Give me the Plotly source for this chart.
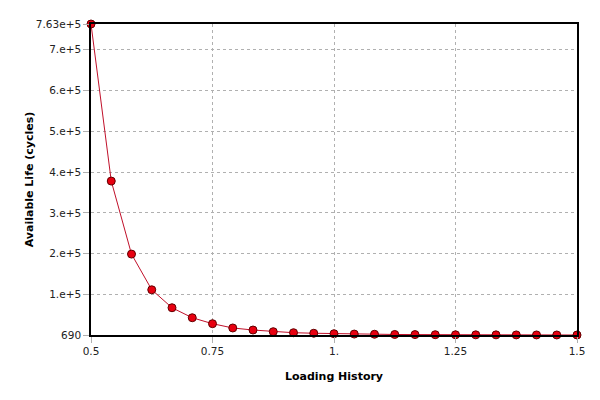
import plotly.graph_objects as go

loading_history = [0.5 + k / 24 for k in range(25)]
available_life = [763000, 378000, 199000, 111500, 67500, 43000, 28400, 17900, 12900,
                  8800, 6300, 5000, 3900, 3000, 2500, 2000, 1700, 1400, 1200, 1100,
                  1000, 900, 820, 750, 690]

y_tickvals = [690, 100000, 200000, 300000, 400000, 500000, 600000, 700000, 763000]
y_ticktext = ["690", "1.e+5", "2.e+5", "3.e+5", "4.e+5", "5.e+5", "6.e+5", "7.e+5", "7.63e+5"]
x_tickvals = [0.5, 0.75, 1.0, 1.25, 1.5]
x_ticktext = ["0.5", "0.75", "1.", "1.25", "1.5"]

fig = go.Figure()
fig.add_trace(go.Scatter(
    x=loading_history, y=available_life, mode="lines+markers",
    line=dict(color="#c0102a", width=1),
    marker=dict(color="#e80010", size=8, line=dict(color="#600000", width=1)),
    cliponaxis=False, showlegend=False,
))

axis_common = dict(
    showline=True, linecolor="black", linewidth=1.5, mirror=True,
    showgrid=True, gridcolor="#b0b0b0", griddash="3px,3px", gridwidth=1,
    ticks="outside", ticklen=6, tickcolor="#b0b0b0", zeroline=False,
    automargin=False,
    tickfont=dict(family="DejaVu Sans", size=10.5, color="#222222"),
)

fig.update_layout(
    width=600, height=400,
    margin=dict(l=91, r=23, t=24, b=65),
    plot_bgcolor="white", paper_bgcolor="white",
    xaxis=dict(range=[0.5, 1.5], tickvals=x_tickvals, ticktext=x_ticktext,
               title=dict(text="<b>Loading History</b>", standoff=16,
                          font=dict(family="DejaVu Sans", size=11, color="black")),
               **axis_common),
    yaxis=dict(range=[690, 763000], tickvals=y_tickvals, ticktext=y_ticktext,
               title=dict(text="<b>Available Life (cycles)</b>", standoff=0,
                          font=dict(family="DejaVu Sans", size=11, color="black")),
               **axis_common),
)

fig.write_html("out.html", config={"displayModeBar": False},
               post_script="document.body.style.margin='0';")
